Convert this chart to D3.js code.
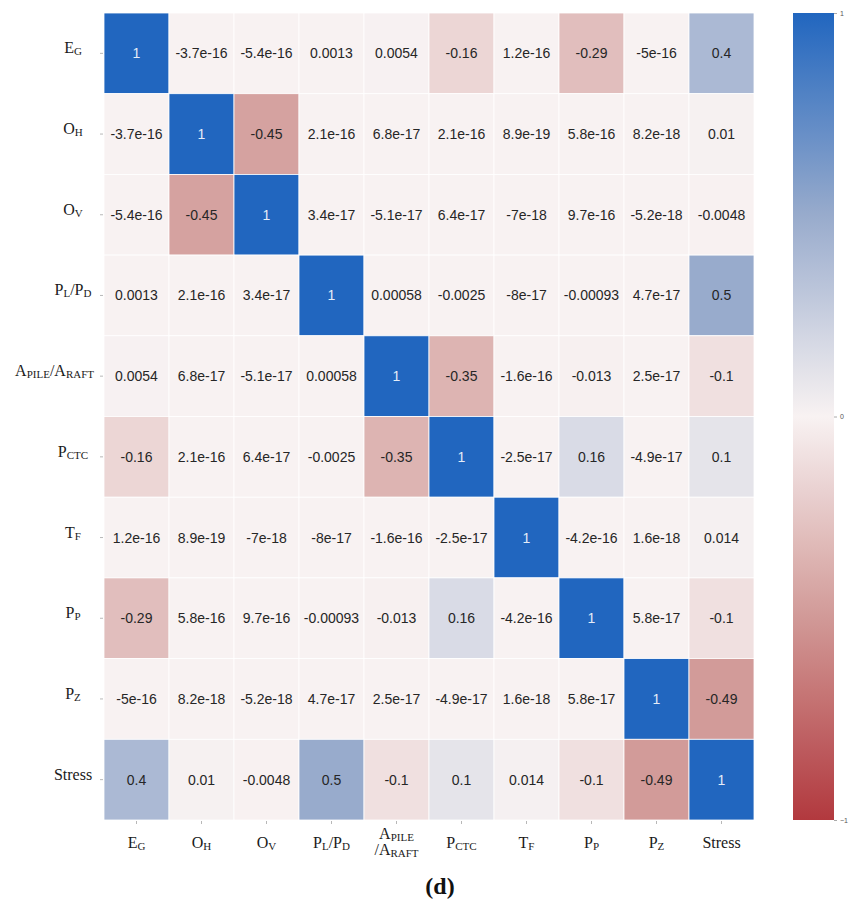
<!DOCTYPE html>
<html>
<head>
<meta charset="utf-8">
<script src="https://cdn.jsdelivr.net/npm/d3@7"></script>
<style>
  html, body { margin: 0; padding: 0; background: #ffffff; }
  svg { display: block; }
</style>
</head>
<body>
<svg id="chart" width="849" height="909"></svg>
<script>
// Variable names; "_X" marks a subscript, "|" a line break on the x axis
const rowLabels = ["E_G", "O_H", "O_V", "P_L/P_D", "A_PILE/A_RAFT", "P_CTC", "T_F", "P_P", "P_Z", "Stress"];
const colLabels = ["E_G", "O_H", "O_V", "P_L/P_D", "A_PILE|/A_RAFT", "P_CTC", "T_F", "P_P", "P_Z", "Stress"];

// Correlation matrix (row by row)
const corr = [
  [1, -3.7e-16, -5.4e-16, 0.0013, 0.0054, -0.16, 1.2e-16, -0.29, -5e-16, 0.4],
  [-3.7e-16, 1, -0.45, 2.1e-16, 6.8e-17, 2.1e-16, 8.9e-19, 5.8e-16, 8.2e-18, 0.01],
  [-5.4e-16, -0.45, 1, 3.4e-17, -5.1e-17, 6.4e-17, -7e-18, 9.7e-16, -5.2e-18, -0.0048],
  [0.0013, 2.1e-16, 3.4e-17, 1, 0.00058, -0.0025, -8e-17, -0.00093, 4.7e-17, 0.5],
  [0.0054, 6.8e-17, -5.1e-17, 0.00058, 1, -0.35, -1.6e-16, -0.013, 2.5e-17, -0.1],
  [-0.16, 2.1e-16, 6.4e-17, -0.0025, -0.35, 1, -2.5e-17, 0.16, -4.9e-17, 0.1],
  [1.2e-16, 8.9e-19, -7e-18, -8e-17, -1.6e-16, -2.5e-17, 1, -4.2e-16, 1.6e-18, 0.014],
  [-0.29, 5.8e-16, 9.7e-16, -0.00093, -0.013, 0.16, -4.2e-16, 1, 5.8e-17, -0.1],
  [-5e-16, 8.2e-18, -5.2e-18, 4.7e-17, 2.5e-17, -4.9e-17, 1.6e-18, 5.8e-17, 1, -0.49],
  [0.4, 0.01, -0.0048, 0.5, -0.1, 0.1, 0.014, -0.1, -0.49, 1]
];

// Colour bar ticks
const barTicks = [1, 0, -1];

const svg = d3.select("#chart");
const serif = "'Liberation Serif', 'Times New Roman', serif";
const sans = "'Liberation Sans', Arial, sans-serif";

const grid = { left: 104, right: 754, top: 13, bottom: 820 };
const x = d3.scaleBand().domain(d3.range(colLabels.length)).range([grid.left, grid.right]);
const y = d3.scaleBand().domain(d3.range(rowLabels.length)).range([grid.top, grid.bottom]);

// Diverging red-white-blue palette
const color = d3.scaleLinear()
  .domain([-1, -0.5, 0, 0.5, 1])
  .range(["#b2393e", "#d19997", "#f8f2f2", "#98abcc", "#2166bf"])
  .interpolate(d3.interpolateRgb)
  .clamp(true);

function luminance(c) {
  const rgb = d3.rgb(c);
  const lin = v => { v /= 255; return v <= 0.03928 ? v / 12.92 : Math.pow((v + 0.055) / 1.055, 2.4); };
  return 0.2126 * lin(rgb.r) + 0.7152 * lin(rgb.g) + 0.0722 * lin(rgb.b);
}

// Cells
const cells = [];
corr.forEach((row, i) => row.forEach((v, j) => cells.push({ i, j, v })));

const g = svg.append("g");
g.selectAll("rect.cell").data(cells).join("rect")
  .attr("class", "cell")
  .attr("x", d => x(d.j))
  .attr("y", d => y(d.i))
  .attr("width", x.bandwidth())
  .attr("height", y.bandwidth())
  .attr("fill", d => color(d.v))
  .attr("stroke", "#ffffff")
  .attr("stroke-width", 0.8);

g.selectAll("text.val").data(cells).join("text")
  .attr("class", "val")
  .attr("x", d => x(d.j) + x.bandwidth() / 2)
  .attr("y", d => y(d.i) + y.bandwidth() / 2)
  .attr("text-anchor", "middle")
  .attr("dominant-baseline", "central")
  .style("font-family", sans)
  .style("font-size", "14px")
  .attr("fill", d => luminance(color(d.v)) > 0.39 ? "#262626" : "#e4edf8")
  .text(d => String(d.v));

// Writes a label with subscripts into a text element
function writeLabel(textSel, str, big, small) {
  const parts = str.split(/(_[A-Z]+)/).filter(s => s.length);
  parts.forEach(p => {
    if (p.startsWith("_")) {
      textSel.append("tspan").text(p.slice(1))
        .style("font-family", serif)
        .style("font-size", small + "px").attr("dy", 2);
    } else {
      textSel.append("tspan").text(p)
        .style("font-family", serif)
        .style("font-size", big + "px").attr("dy", textSel.selectAll("tspan").size() ? -2 : 0);
    }
  });
}

// Axes (tick marks only; labels are drawn with subscripts below)
const yAxis = d3.axisLeft(y).tickSize(3).tickFormat("");
const xAxis = d3.axisBottom(x).tickSize(3).tickFormat("");
const ya = svg.append("g").attr("transform", `translate(${grid.left - 1},0)`).call(yAxis);
const xa = svg.append("g").attr("transform", `translate(0,${grid.bottom + 1})`).call(xAxis);
[ya, xa].forEach(a => {
  a.select(".domain").remove();
  a.selectAll(".tick line").attr("stroke", "#b8b8b8");
});

// Row labels
rowLabels.forEach((lab, i) => {
  const t = svg.append("text")
    .attr("y", y(i) + y.bandwidth() / 2 + 2)
    .style("font-family", serif)
    .attr("fill", "#1a1a1a");
  writeLabel(t, lab, 16, 11);
  const w = t.node().getComputedTextLength();
  const right = Math.min(73 + w / 2, 94);
  t.attr("x", right - w);
});

// Column labels
colLabels.forEach((lab, j) => {
  const lines = lab.split("|");
  const cx = x(j) + x.bandwidth() / 2;
  const base = lines.length > 1 ? 841 : 850;
  lines.forEach((ln, k) => {
    const t = svg.append("text")
      .attr("x", cx)
      .attr("y", base + k * 16)
      .attr("text-anchor", "middle")
      .style("font-family", serif)
      .attr("fill", "#1a1a1a");
    writeLabel(t, ln, 16, 11);
  });
});

// Colour bar
const bar = { x: 793, w: 41 };
const cbar = d3.scaleLinear().domain([-1, 1]).range([grid.bottom, grid.top]);
const grad = svg.append("defs").append("linearGradient")
  .attr("id", "cbar").attr("x1", 0).attr("y1", 1).attr("x2", 0).attr("y2", 0);
d3.range(0, 1.0001, 0.05).forEach(t => {
  grad.append("stop").attr("offset", t).attr("stop-color", color(-1 + 2 * t));
});
svg.append("rect")
  .attr("x", bar.x).attr("y", cbar(1))
  .attr("width", bar.w).attr("height", cbar(-1) - cbar(1))
  .attr("fill", "url(#cbar)");
const ca = svg.append("g").attr("transform", `translate(${bar.x + bar.w},0)`)
  .call(d3.axisRight(cbar).tickValues(barTicks).tickSize(3).tickPadding(3).tickFormat(d3.format("d")));
ca.select(".domain").remove();
ca.selectAll(".tick line").attr("stroke", "#aaaaaa");
ca.selectAll(".tick text").style("font-family", sans).style("font-size", "7px").attr("fill", "#555555");

// Panel label
svg.append("text")
  .attr("x", 440).attr("y", 894)
  .attr("text-anchor", "middle")
  .style("font-family", serif)
  .style("font-size", "24px")
  .style("font-weight", "bold")
  .attr("fill", "#111111")
  .text("(d)");
</script>
</body>
</html>
